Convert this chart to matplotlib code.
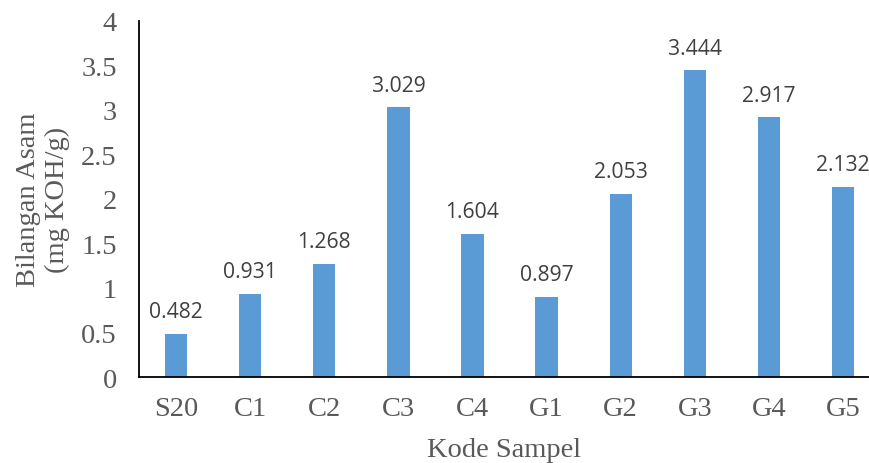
import matplotlib
matplotlib.use("Agg")
import matplotlib.pyplot as plt

categories = ["S20", "C1", "C2", "C3", "C4", "G1", "G2", "G3", "G4", "G5"]
values = [0.482, 0.931, 1.268, 3.029, 1.604, 0.897, 2.053, 3.444, 2.917, 2.132]
yticks = [0, 0.5, 1, 1.5, 2, 2.5, 3, 3.5, 4]
ytick_labels = ["0", "0.5", "1", "1.5", "2", "2.5", "3", "3.5", "4"]

serif = ["Liberation Serif", "DejaVu Serif"]
gray = "#595959"

fig = plt.figure(figsize=(8.69, 4.64), dpi=100)
ax = fig.add_axes([139/869, 1-378/464, 1-139/869, (378-22)/464])

x = list(range(len(categories)))
bars = ax.bar(x, values, width=0.3, color="#5B9BD5", zorder=2)

for xi, v in zip(x, values):
    ax.annotate(f"{v:.3f}", (xi, v), xytext=(0, 8.5), textcoords="offset points",
                ha="center", va="bottom", fontsize=15.2, color="#404040",
                family=["Open Sans", "DejaVu Sans"])

ax.set_xlim(-0.5, 9.35)
ax.set_ylim(0, 4)
ax.set_yticks(yticks)
ax.set_yticklabels(ytick_labels)
ax.set_xticks(x)
ax.set_xticklabels(categories)
for lab in ax.get_xticklabels() + ax.get_yticklabels():
    lab.set_family(serif)
    lab.set_fontsize(20.5)
    lab.set_color(gray)
ax.tick_params(axis="both", length=0)
ax.tick_params(axis="y", pad=16)
ax.tick_params(axis="x", pad=14)

for s in ["top", "right"]:
    ax.spines[s].set_visible(False)
for s in ["left", "bottom"]:
    ax.spines[s].set_color("black")
    ax.spines[s].set_linewidth(1.3)

ax.set_xlabel("Kode Sampel", family=serif, fontsize=20.5, color=gray, labelpad=11)
ax.set_ylabel("Bilangan Asam\n(mg KOH/g)", family=serif, fontsize=20.5, color=gray,
              labelpad=8, linespacing=1.2)

fig.savefig("out.png", dpi=100)
